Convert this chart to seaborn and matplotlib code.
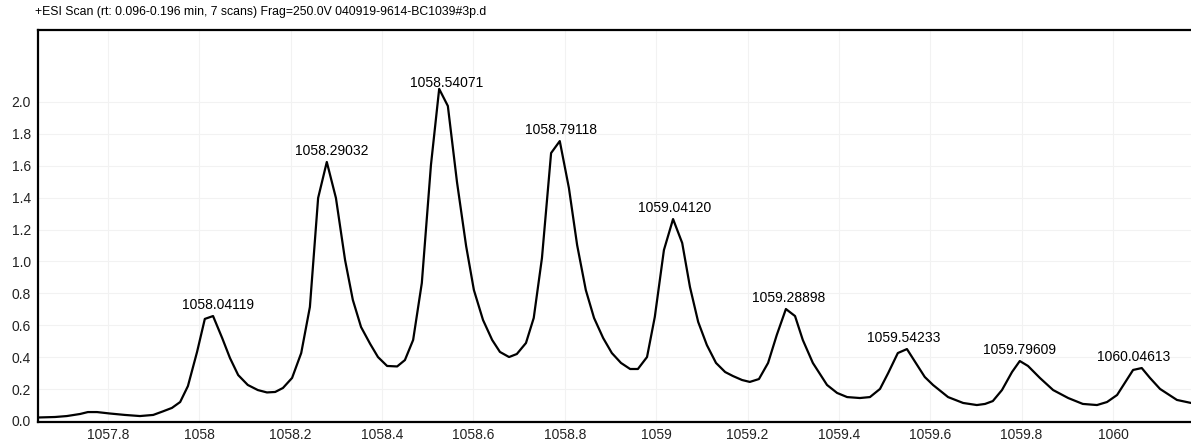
import matplotlib
matplotlib.use("Agg")
import matplotlib.pyplot as plt
import matplotlib.ticker as mticker
import numpy as np
import pandas as pd
import seaborn as sns

# profile data (m/z, intensity x10^?)
mz = [1057.647, 1057.684, 1057.710, 1057.739, 1057.756, 1057.776, 1057.804, 1057.837,
      1057.870, 1057.899, 1057.920, 1057.940, 1057.958, 1057.975, 1057.995, 1058.012,
      1058.030, 1058.050, 1058.067, 1058.085, 1058.106, 1058.128, 1058.148, 1058.166,
      1058.183, 1058.203, 1058.223, 1058.242, 1058.260, 1058.279, 1058.299, 1058.319,
      1058.336, 1058.354, 1058.374, 1058.391, 1058.411, 1058.433, 1058.450, 1058.468,
      1058.487, 1058.507, 1058.525, 1058.544, 1058.564, 1058.584, 1058.601, 1058.621,
      1058.641, 1058.658, 1058.678, 1058.695, 1058.715, 1058.732, 1058.750, 1058.770,
      1058.789, 1058.809, 1058.827, 1058.846, 1058.864, 1058.884, 1058.903, 1058.923,
      1058.943, 1058.960, 1058.980, 1058.997, 1059.017, 1059.037, 1059.057, 1059.074,
      1059.092, 1059.111, 1059.131, 1059.151, 1059.168, 1059.188, 1059.205, 1059.225,
      1059.245, 1059.264, 1059.284, 1059.304, 1059.321, 1059.343, 1059.374, 1059.396,
      1059.418, 1059.446, 1059.468, 1059.490, 1059.508, 1059.529, 1059.549, 1059.567,
      1059.588, 1059.606, 1059.639, 1059.672, 1059.702, 1059.720, 1059.737, 1059.757,
      1059.779, 1059.796, 1059.814, 1059.840, 1059.869, 1059.902, 1059.934, 1059.965,
      1059.987, 1060.009, 1060.044, 1060.063, 1060.081, 1060.103, 1060.140, 1060.171]
intensity = [0.022, 0.025, 0.031, 0.044, 0.056, 0.056, 0.047, 0.038,
             0.031, 0.038, 0.060, 0.082, 0.119, 0.219, 0.433, 0.640,
             0.658, 0.520, 0.395, 0.288, 0.226, 0.194, 0.179, 0.182,
             0.207, 0.270, 0.426, 0.715, 1.398, 1.624, 1.398, 1.009,
             0.759, 0.589, 0.483, 0.401, 0.345, 0.342, 0.382, 0.508,
             0.865, 1.605, 2.082, 1.975, 1.498, 1.097, 0.821, 0.633,
             0.508, 0.433, 0.401, 0.420, 0.489, 0.646, 1.022, 1.680,
             1.755, 1.461, 1.103, 0.821, 0.646, 0.520, 0.426, 0.364,
             0.326, 0.326, 0.401, 0.652, 1.072, 1.266, 1.116, 0.840,
             0.621, 0.476, 0.364, 0.307, 0.282, 0.257, 0.245, 0.263,
             0.364, 0.539, 0.702, 0.658, 0.508, 0.364, 0.226, 0.176,
             0.150, 0.144, 0.150, 0.201, 0.301, 0.426, 0.451, 0.370,
             0.276, 0.226, 0.150, 0.113, 0.100, 0.107, 0.125, 0.194,
             0.307, 0.376, 0.345, 0.270, 0.194, 0.144, 0.107, 0.100,
             0.119, 0.163, 0.320, 0.332, 0.270, 0.201, 0.132, 0.113]

# centroid labels
peak_labels = ["1058.04119", "1058.29032", "1058.54071", "1058.79118", "1059.04120",
               "1059.28898", "1059.54233", "1059.79609", "1060.04613"]

title = "+ESI Scan (rt: 0.096-0.196 min, 7 scans) Frag=250.0V 040919-9614-BC1039#3p.d"

df = pd.DataFrame({"mz": mz, "intensity": intensity})

sns.set_theme(style="whitegrid")
plt.rcParams["font.family"] = ["Liberation Sans", "DejaVu Sans"]

fig = plt.figure(figsize=(11.91, 4.45), dpi=100)
ax = fig.add_axes([38 / 1191, 1 - 422 / 445, 1 - 38 / 1191, (422 - 30) / 445])

sns.lineplot(data=df, x="mz", y="intensity", ax=ax, color="black", linewidth=1.6,
             estimator=None, sort=False)

for lab in peak_labels:
    c = float(lab)
    near = df[(df.mz > c - 0.03) & (df.mz < c + 0.03)]
    top = near.intensity.max()
    # the tallest label sits nearly on its peak
    off = 1.5 if top > 2 else 5
    ax.annotate(lab, xy=(c, top), xytext=(0, off), textcoords="offset points",
                ha="center", va="baseline", fontsize=10, color="black")

ax.set_xlim(1057.6468, 1060.1708)
ax.set_ylim(-0.0063, 2.4514)
ax.xaxis.set_major_locator(mticker.MultipleLocator(0.2))
ax.xaxis.set_major_formatter(mticker.FuncFormatter(lambda v, p: f"{v:g}"))
ax.yaxis.set_major_locator(mticker.FixedLocator(np.arange(0, 2.01, 0.2)))
ax.yaxis.set_major_formatter(mticker.FormatStrFormatter("%.1f"))
ax.tick_params(axis="both", labelsize=10, colors="#222222")
ax.tick_params(axis="y", length=3, width=0.8, color="#555555", pad=2)
ax.tick_params(axis="x", length=0, pad=4)
ax.set_xlabel("")
ax.set_ylabel("")
ax.grid(True, color="#f2f2f2", linewidth=0.8)

for side in ["left", "top", "bottom"]:
    ax.spines[side].set_visible(True)
    ax.spines[side].set_color("black")
    ax.spines[side].set_linewidth(1.6)
ax.spines["right"].set_visible(False)

fig.text(35 / 1191, 1 - 12 / 445, title, ha="left", va="center", fontsize=8.8, color="black")

fig.savefig("out.png", dpi=100)
